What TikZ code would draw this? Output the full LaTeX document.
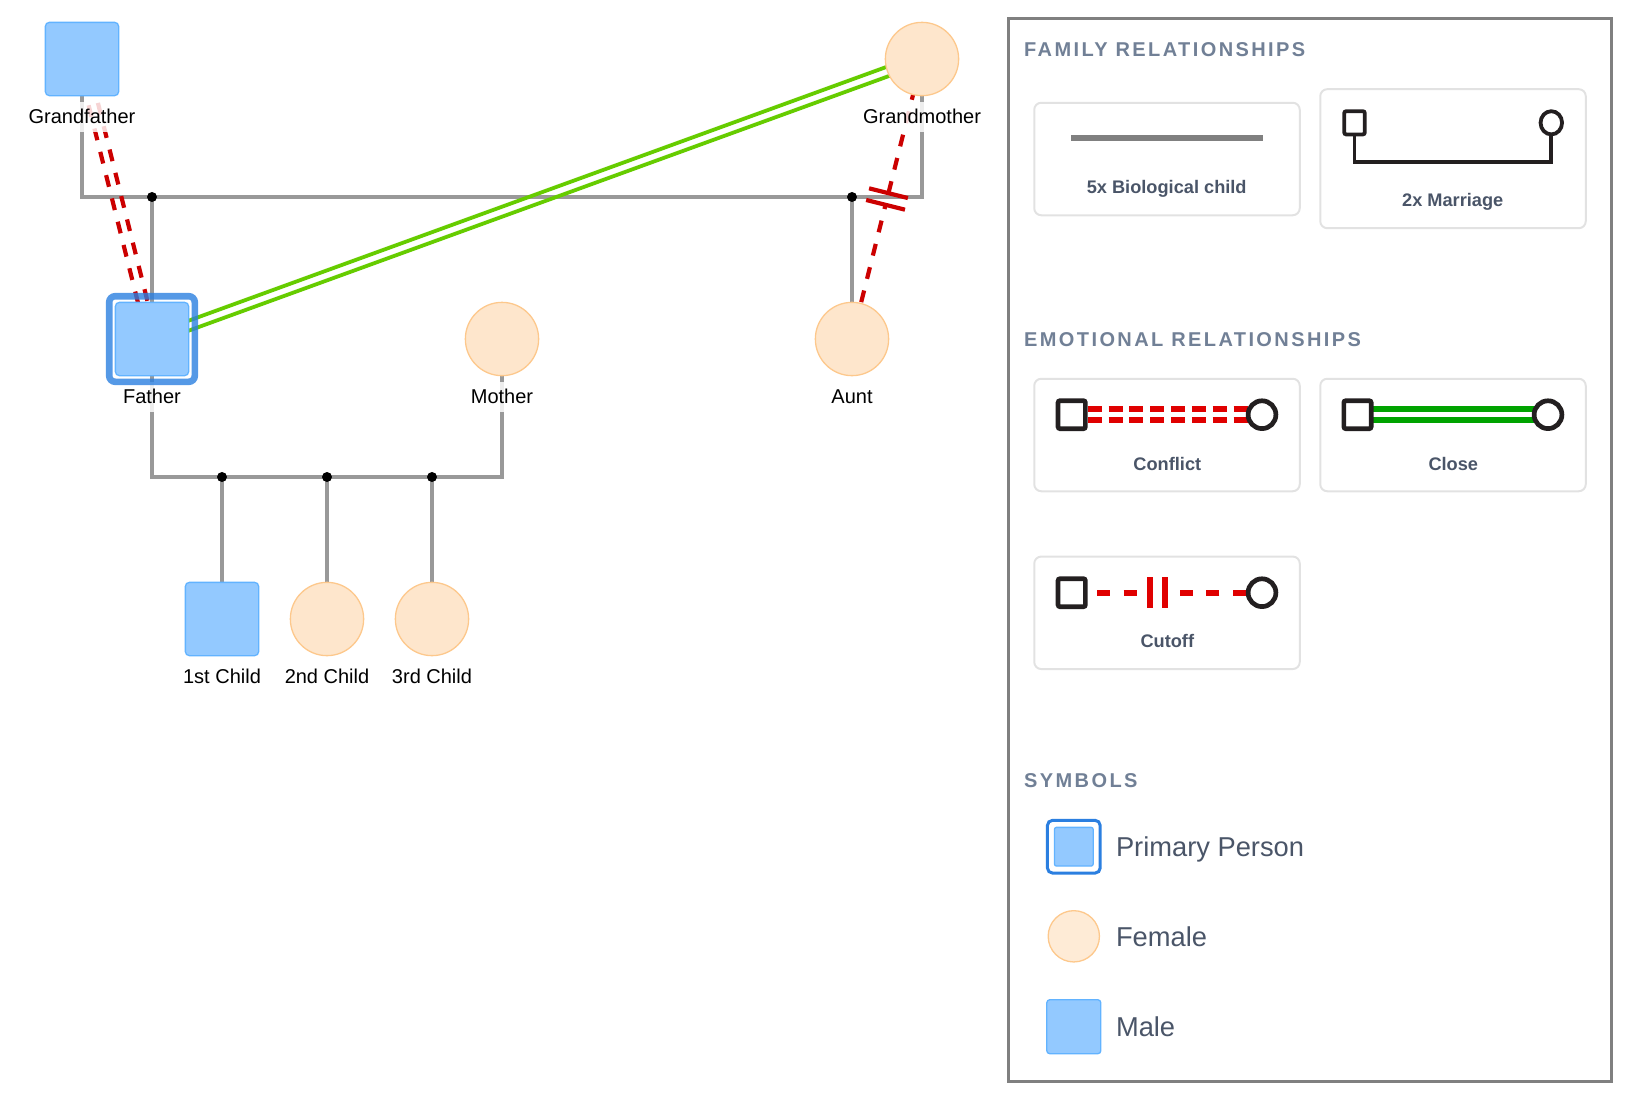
\documentclass[tikz,border=0pt]{standalone}
\usepackage{fontspec}
\setmainfont{Liberation Sans}
\newfontfamily\headfont[LetterSpace=12]{Liberation Sans}
\usepackage{xcolor}
\usetikzlibrary{shapes.geometric, positioning, calc, backgrounds}
\definecolor{malefill}{HTML}{93C9FF}
\definecolor{maleline}{HTML}{62B3FF}
\definecolor{femalefill}{HTML}{FEE6CC}
\definecolor{femaleline}{HTML}{FDC88C}
\definecolor{ringblue}{HTML}{2B7FE0}
\definecolor{linegray}{HTML}{999999}
\definecolor{panelgray}{HTML}{808080}
\definecolor{cardgray}{HTML}{E2E2E2}
\definecolor{headgray}{HTML}{718096}
\definecolor{textgray}{HTML}{4A5568}
\definecolor{iconblack}{HTML}{231F20}
\definecolor{cutred}{HTML}{CC0000}
\definecolor{iconred}{HTML}{E00000}
\definecolor{closegreen}{HTML}{66CC00}
\definecolor{icongreen}{HTML}{00A300}

\begin{document}
\begin{tikzpicture}[
		x=1pt, y=-1pt,
		% Defining person styles
		malebox/.style={
				rectangle,
				rounded corners=4pt,
				draw=maleline,
				fill=malefill,
				line width=1.3pt,
				minimum size=73.3pt,
				inner sep=0pt,
				outer sep=0pt
			},
		femalebox/.style={
				circle,
				draw=femaleline,
				fill=femalefill,
				line width=1.3pt,
				minimum size=73.3pt,
				inner sep=0pt,
				outer sep=0pt
			},
		primaryring/.style={
				rectangle,
				rounded corners=6pt,
				draw=ringblue,
				draw opacity=0.8,
				line width=6.6pt,
				minimum size=85.6pt,
				inner sep=0pt,
				outer sep=0pt
			},
		namelabel/.style={
				fill=white,
				fill opacity=0.83,
				text opacity=1,
				inner xsep=0pt,
				inner ysep=0pt,
				text height=21.8pt,
				text depth=8.2pt,
				font=\fontsize{20}{24}\selectfont
			},
		joindot/.style={
				circle,
				fill=black,
				minimum size=10pt,
				inner sep=0pt
			},
		% Defining connector styles
		childline/.style={draw=linegray, line width=3.5pt},
		conflictline/.style={draw=cutred, line width=4.2pt, dash pattern=on 12pt off 12pt, dash phase=1.5pt},
		closeline/.style={draw=closegreen, line width=3.8pt},
		cutoffline/.style={draw=cutred, line width=4.2pt, dash pattern=on 12pt off 12pt},
		cutbar/.style={draw=cutred, line width=4.2pt},
		% Defining legend styles
		panelbox/.style={
				rectangle,
				draw=panelgray,
				line width=3pt,
				minimum width=603.2pt,
				minimum height=1063pt
			},
		cardbox/.style={
				rectangle,
				rounded corners=7pt,
				draw=cardgray,
				line width=2pt,
				minimum width=265.5pt
			},
		headtext/.style={
				anchor=base west,
				inner sep=0pt,
				text=headgray,
				font=\fontsize{20}{24}\headfont\bfseries
			},
		cardtext/.style={
				anchor=base,
				inner sep=0pt,
				text=textgray,
				font=\fontsize{18.2}{22}\selectfont\bfseries
			},
		symboltext/.style={
				anchor=base west,
				inner sep=0pt,
				text=textgray,
				font=\fontsize{27.3}{32}\selectfont
			},
		iconsquare/.style={
				rectangle,
				rounded corners=2pt,
				draw=iconblack,
				fill=white,
				line width=4.7pt,
				minimum width=27.3pt,
				minimum height=28pt,
				inner sep=0pt,
				outer sep=0pt
			},
		iconcircle/.style={
				circle,
				draw=iconblack,
				fill=white,
				line width=4.7pt,
				minimum size=27.8pt,
				inner sep=0pt,
				outer sep=0pt
			},
		iconconflict/.style={draw=iconred, line width=5.8pt, dash pattern=on 14pt off 6.83pt, dash phase=18.5pt},
		iconclose/.style={draw=icongreen, line width=5.8pt},
		iconcut/.style={draw=iconred, line width=6pt, dash pattern=on 13pt off 13.4pt},
		iconbar/.style={draw=iconred, line width=6pt},
		iconline/.style={draw=iconblack, line width=3.8pt}
		]

		\useasboundingbox (0,0) rectangle (1630,1100);

		% Top generation
		\node[malebox] (grandfather) at (82,59) {};
		\node[femalebox] (grandmother) at (922,59) {};
		\node[joindot] (dotfather) at (152,197) {};
		\node[joindot] (dotaunt) at (852,197) {};

		% Middle generation
		\node[malebox] (father) at (152,339) {};
		\node[femalebox] (mother) at (502,339) {};
		\node[femalebox] (aunt) at (852,339) {};
		\node[joindot] (dotfirst) at (222,477) {};
		\node[joindot] (dotsecond) at (327,477) {};
		\node[joindot] (dotthird) at (432,477) {};

		% Children
		\node[malebox] (firstchild) at (222,619) {};
		\node[femalebox] (secondchild) at (327,619) {};
		\node[femalebox] (thirdchild) at (432,619) {};

		% Names
		\node[namelabel, below=5.7pt of grandfather] (grandfather_name) {Grandfather};
		\node[namelabel, below=5.7pt of grandmother] (grandmother_name) {Grandmother};
		\node[namelabel, below=5.7pt of father] (father_name) {Father};
		\node[namelabel, below=5.7pt of mother] (mother_name) {Mother};
		\node[namelabel, below=5.7pt of aunt] (aunt_name) {Aunt};
		\node[namelabel, below=5.7pt of firstchild] (firstchild_name) {1st Child};
		\node[namelabel, below=5.7pt of secondchild] (secondchild_name) {2nd Child};
		\node[namelabel, below=5.7pt of thirdchild] (thirdchild_name) {3rd Child};

		\node[primaryring] (father_ring) at (father) {};

		% Legend panel
		\node[panelbox] (legend_panel) at (1309.9,550) {};
		\node[headtext] (family_head) at (1024,56) {FAMILY RELATIONSHIPS};
		\node[headtext] (emotional_head) at (1024,346) {EMOTIONAL RELATIONSHIPS};
		\node[headtext] (symbols_head) at (1024,787) {SYMBOLS};

		% Biological child card
		\node[cardbox, minimum height=112.5pt] (bio_card) at (1167,159) {};
		\node[cardtext] (bio_text) at (1166.7,193.6) {5x Biological child};
		\coordinate (bio_left) at (1071.3,138);
		\coordinate (bio_right) at (1262.7,138);

		% Marriage card
		\node[cardbox, minimum height=139pt] (marriage_card) at (1453,158.7) {};
		\node[cardtext] (marriage_text) at (1452.7,206.6) {2x Marriage};
		\node[iconsquare, line width=3.8pt, minimum width=20.6pt, minimum height=23.2pt] (marriage_square) at (1354.5,122.8) {};
		\node[ellipse, draw=iconblack, fill=white, line width=3.8pt, minimum width=21.5pt, minimum height=23.2pt, inner sep=0pt, outer sep=0pt] (marriage_circle) at (1551.3,122.8) {};

		% Conflict card
		\node[cardbox, minimum height=112.5pt] (conflict_card) at (1167,435) {};
		\node[cardtext] (conflict_text) at (1167.3,470.6) {Conflict};
		\node[iconsquare] (conflict_square) at (1071.7,414.7) {};
		\node[iconcircle] (conflict_circle) at (1262,414.7) {};

		% Close card
		\node[cardbox, minimum height=112.5pt] (close_card) at (1453,435) {};
		\node[cardtext] (close_text) at (1453.3,470.6) {Close};
		\node[iconsquare] (close_square) at (1357.5,414.7) {};
		\node[iconcircle] (close_circle) at (1548,414.7) {};

		% Cutoff card
		\node[cardbox, minimum height=112.5pt] (cutoff_card) at (1167,612.8) {};
		\node[cardtext] (cutoff_text) at (1167.3,647.6) {Cutoff};
		\node[iconsquare] (cutoff_square) at (1071.7,592.7) {};
		\node[iconcircle] (cutoff_circle) at (1262,592.7) {};
		\coordinate (cutoff_low) at (1149.7,592.7);
		\coordinate (cutoff_high) at (1165,592.7);

		% Symbols
		\node[malebox, line width=1.3pt, minimum size=38.7pt, rounded corners=2pt] (symbol_primary) at (1073.8,846.7) {};
		\node[primaryring, draw opacity=1, line width=3pt, minimum size=52.7pt, rounded corners=5pt] (symbol_ring) at (symbol_primary) {};
		\node[symboltext] (primary_text) at (1115.8,856.8) {Primary Person};
		\node[femalebox, minimum size=51.3pt, fill=femalefill!80!white] (symbol_female) at (1073.8,936.3) {};
		\node[symboltext] (female_text) at (1115.8,946.5) {Female};
		\node[malebox, minimum size=54pt, rounded corners=3pt] (symbol_male) at (1073.8,1026.7) {};
		\node[symboltext] (male_text) at (1115.8,1036.5) {Male};

		\begin{scope}[on background layer]
			% Drawing family lines
			\draw[childline] (grandfather.south) |- (dotfather.center) -- (dotaunt.center) -| (grandmother.south);
			\draw[childline] (dotfather.center) -- (father.north);
			\draw[childline] (dotaunt.center) -- (aunt.north);
			\draw[childline] (father.south) |- (dotfirst.center) -- (dotsecond.center) -- (dotthird.center) -| (mother.south);
			\draw[childline] (dotfirst.center) -- (firstchild.north);
			\draw[childline] (dotsecond.center) -- (secondchild.north);
			\draw[childline] (dotthird.center) -- (thirdchild.north);

			% Drawing conflict lines
			\draw[conflictline] ($(grandfather.center)!4.8pt!90:(father.center)$) -- ($(father.center)!4.8pt!-90:(grandfather.center)$);
			\draw[conflictline] ($(grandfather.center)!4.8pt!-90:(father.center)$) -- ($(father.center)!4.8pt!90:(grandfather.center)$);

			% Drawing close lines
			\draw[closeline] ($(father.center)!4.7pt!90:(grandmother.center)$) -- ($(grandmother.center)!4.7pt!-90:(father.center)$);
			\draw[closeline] ($(father.center)!4.7pt!-90:(grandmother.center)$) -- ($(grandmother.center)!4.7pt!90:(father.center)$);

			% Drawing cutoff line
			\coordinate (cut_mid) at ($(aunt.center)!0.5!(grandmother.center)$);
			\coordinate (cut_low) at ($(cut_mid)!6pt!(aunt.center)$);
			\coordinate (cut_high) at ($(cut_mid)!6pt!(grandmother.center)$);
			\draw[cutoffline, dash phase=10pt] (aunt.center) -- (cut_low);
			\draw[cutoffline, dash phase=18pt] (grandmother.center) -- (cut_high);
			\draw[cutbar] ($(cut_low)!20pt!90:(cut_mid)$) -- ($(cut_low)!20pt!-90:(cut_mid)$);
			\draw[cutbar] ($(cut_high)!20pt!90:(cut_mid)$) -- ($(cut_high)!20pt!-90:(cut_mid)$);

			% Drawing legend icons
			\draw[draw=panelgray, line width=6pt] (bio_left) -- (bio_right);
			\draw[iconline] (marriage_square.south) -- ++(0,27.5) -| (marriage_circle.south);
			\draw[iconconflict] ([yshift=5.65pt]conflict_square.center) ++(13.65,0) -- ([yshift=5.65pt]conflict_circle.center);
			\draw[iconconflict] ([yshift=-5.65pt]conflict_square.center) ++(13.65,0) -- ([yshift=-5.65pt]conflict_circle.center);
			\draw[iconclose] ([yshift=5.65pt]close_square.center) -- ([yshift=5.65pt]close_circle.center);
			\draw[iconclose] ([yshift=-5.65pt]close_square.center) -- ([yshift=-5.65pt]close_circle.center);
			\draw[iconcut, dash phase=16.8pt] ([xshift=2.35pt]cutoff_square.east) -- (cutoff_low);
			\draw[iconcut] ([xshift=-2.35pt]cutoff_circle.west) -- (cutoff_high);
			\draw[iconbar] ([yshift=15.5pt]cutoff_low) -- ([yshift=-15.5pt]cutoff_low);
			\draw[iconbar] ([yshift=15.5pt]cutoff_high) -- ([yshift=-15.5pt]cutoff_high);
		\end{scope}

	\end{tikzpicture}
\end{document}
